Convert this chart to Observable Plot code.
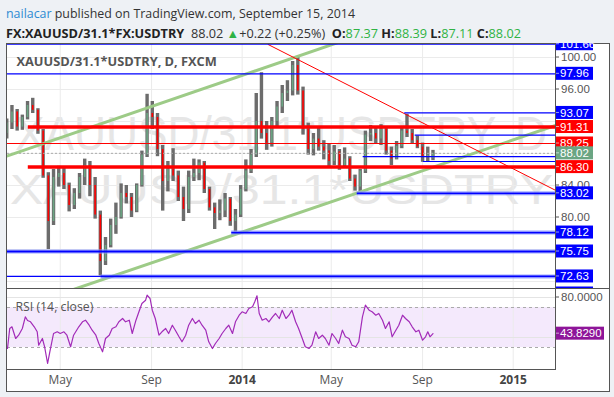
<!DOCTYPE html>
<html><head><meta charset="utf-8">
<script src="https://cdn.jsdelivr.net/npm/d3@7"></script>
<script src="https://cdn.jsdelivr.net/npm/@observablehq/plot@0.6"></script>
<style>
html,body{margin:0;padding:0;background:#eef1f5;}
#page{position:relative;width:614px;height:397px;overflow:hidden;background:#eef1f5;font-family:"Open Sans",sans-serif;}
.hdr{position:absolute;left:6px;white-space:nowrap;color:#333;font-size:12.4px;line-height:16px;transform-origin:0 0;}
.hdr b{font-weight:700;color:#222;}
.g{color:#2fb344;}
#frame{position:absolute;left:6px;top:43px;width:604px;height:349px;border:1px solid #555;box-sizing:border-box;background:#fff;}
.sep{position:absolute;background:#555;}
#main,#rsi{position:absolute;left:0;}
#main{top:43px;} #rsi{top:288px;}
</style></head><body>
<div id="page">
  <div class="hdr" id="h1" style="top:6px"><span style="color:#2e8bd3">nailacar</span> published on TradingView.com, September 15, 2014</div>
  <div class="hdr" id="h2" style="top:26px"></div>
  <div id="frame"></div>
  <div id="main"></div>
  <div id="rsi"></div>
  <div class="sep" style="left:555px;top:43px;width:1px;height:326px"></div>
  <div class="sep" style="left:6px;top:288px;width:604px;height:1px"></div>
  <div class="sep" style="left:6px;top:369px;width:550px;height:1px"></div>
</div>
<script>
// ---------- data ----------
const symbol = "FX:XAUUSD/31.1*FX:USDTRY";
const paneTitle = "XAUUSD/31.1*USDTRY, D, FXCM";
const watermark1 = "XAUUSD/31.1*USDTRY, D";
const watermark2 = "XAUUSD/31.1*USDTRY";
const viewDates = ["2013-02-19", "2015-02-27"];
const priceView = [71.125, 101.625];
const rsiView = [8, 88];

const candleDates = ["2013-02-18","2013-02-25","2013-03-04","2013-03-11","2013-03-18","2013-03-25","2013-04-01","2013-04-08","2013-04-15","2013-04-22","2013-04-29","2013-05-06","2013-05-13","2013-05-20","2013-05-27","2013-06-03","2013-06-10","2013-06-17","2013-06-24","2013-07-01","2013-07-08","2013-07-15","2013-07-22","2013-07-29","2013-08-05","2013-08-12","2013-08-19","2013-08-26","2013-09-02","2013-09-09","2013-09-16","2013-09-23","2013-09-30","2013-10-07","2013-10-14","2013-10-21","2013-10-28","2013-11-04","2013-11-11","2013-11-18","2013-11-25","2013-12-02","2013-12-09","2013-12-16","2013-12-23","2013-12-30","2014-01-06","2014-01-13","2014-01-20","2014-01-27","2014-02-03","2014-02-10","2014-02-17","2014-02-24","2014-03-03","2014-03-10","2014-03-17","2014-03-24","2014-03-31","2014-04-07","2014-04-14","2014-04-21","2014-04-28","2014-05-05","2014-05-12","2014-05-19","2014-05-26","2014-06-02","2014-06-09","2014-06-16","2014-06-23","2014-06-30","2014-07-07","2014-07-14","2014-07-21","2014-07-28","2014-08-04","2014-08-11","2014-08-18","2014-08-25","2014-09-01","2014-09-08","2014-09-15"];
const opens  = [90.5,91.8,93.2,91.3,92.5,94.0,93.4,90.8,85.2,79.5,85.0,85.5,84.0,81.5,83.0,85.0,86.5,84.0,80.3,74.5,76.5,79.0,80.0,83.0,82.5,80.8,84.0,87.8,93.0,92.5,88.5,84.5,86.0,85.2,82.5,81.0,85.0,85.5,86.8,83.5,81.2,80.5,80.8,82.3,79.5,80.3,83.5,85.8,87.8,92.0,90.5,89.3,92.0,93.8,95.5,95.8,99.0,95.8,91.0,88.5,89.8,88.8,88.3,87.0,88.2,86.5,87.3,84.8,83.8,85.8,90.3,90.5,89.8,91.0,88.3,87.3,88.9,90.8,90.5,89.6,88.8,87.5,87.37];
const highs  = [92.3,94.0,93.5,92.8,94.5,94.9,93.6,91.0,85.6,86.0,86.4,86.3,84.3,83.6,85.5,87.3,87.0,85.0,80.8,77.5,79.8,81.8,84.2,84.0,83.0,84.2,88.3,95.4,94.5,93.0,89.0,87.0,88.6,85.8,83.8,85.8,87.3,87.2,87.0,83.8,81.8,82.2,83.0,82.5,81.0,84.0,87.2,88.5,95.5,98.1,92.0,92.5,94.5,96.5,97.1,99.5,100.0,96.3,91.8,90.5,91.3,89.6,89.2,89.0,88.5,88.7,87.6,85.3,86.0,90.8,91.5,91.2,91.6,91.2,88.8,89.5,91.2,92.9,91.0,90.2,89.3,88.8,88.39];
const lows   = [89.8,91.0,90.8,90.9,92.2,93.0,90.4,84.9,76.0,79.0,83.8,83.5,80.7,81.0,82.3,84.0,82.6,79.8,72.7,74.0,76.2,77.9,79.8,81.7,80.0,80.6,83.8,87.5,91.0,87.6,80.8,83.2,84.5,82.0,79.5,80.5,84.5,84.6,83.0,80.8,78.5,79.6,80.0,78.9,78.2,80.0,83.2,85.5,87.5,89.8,88.4,88.8,91.3,93.0,94.5,95.2,95.3,90.3,87.8,87.7,88.3,87.2,86.3,86.5,85.9,86.2,84.5,83.3,83.1,85.5,89.5,89.2,89.0,87.8,86.5,87.2,88.6,90.0,89.2,88.6,86.9,86.9,87.11];
const closes = [91.8,93.2,91.3,92.5,94.0,93.4,90.8,85.2,79.5,85.0,85.5,84.0,81.5,83.0,85.0,86.5,84.0,80.3,74.5,76.5,79.0,80.0,83.0,82.5,80.8,84.0,87.8,93.0,92.5,88.5,84.5,86.0,85.2,82.5,81.0,85.0,85.5,86.8,83.5,81.2,80.5,80.8,82.3,79.5,80.3,83.5,85.8,87.8,92.0,90.5,89.3,92.0,93.8,95.5,95.8,99.0,95.8,91.0,88.5,89.8,88.8,88.3,87.0,88.2,86.5,87.3,84.8,83.8,85.8,90.3,90.5,89.8,91.0,88.3,87.3,88.9,90.8,90.5,89.6,88.8,87.5,87.8,88.02];

const rsiDates = ["2013-02-19","2013-02-22","2013-02-25","2013-03-02","2013-03-06","2013-03-11","2013-03-15","2013-03-18","2013-03-22","2013-03-27","2013-03-31","2013-04-02","2013-04-07","2013-04-10","2013-04-14","2013-04-17","2013-04-22","2013-04-27","2013-05-01","2013-05-06","2013-05-10","2013-05-15","2013-05-19","2013-05-26","2013-05-31","2013-06-04","2013-06-09","2013-06-13","2013-06-18","2013-06-22","2013-06-27","2013-07-01","2013-07-06","2013-07-10","2013-07-15","2013-07-19","2013-07-24","2013-07-28","2013-08-02","2013-08-06","2013-08-11","2013-08-15","2013-08-19","2013-08-24","2013-08-26","2013-08-30","2013-09-02","2013-09-06","2013-09-11","2013-09-15","2013-09-20","2013-09-24","2013-09-29","2013-10-03","2013-10-08","2013-10-12","2013-10-17","2013-10-21","2013-10-26","2013-10-30","2013-11-04","2013-11-08","2013-11-13","2013-11-17","2013-11-22","2013-11-26","2013-12-01","2013-12-05","2013-12-10","2013-12-14","2013-12-19","2013-12-23","2013-12-28","2014-01-01","2014-01-06","2014-01-10","2014-01-15","2014-01-18","2014-01-21","2014-01-24","2014-01-28","2014-02-02","2014-02-06","2014-02-11","2014-02-15","2014-02-20","2014-02-24","2014-03-01","2014-03-05","2014-03-09","2014-03-14","2014-03-18","2014-03-23","2014-03-27","2014-04-01","2014-04-05","2014-04-10","2014-04-14","2014-04-19","2014-04-23","2014-04-28","2014-05-02","2014-05-07","2014-05-11","2014-05-16","2014-05-20","2014-05-25","2014-05-29","2014-06-03","2014-06-07","2014-06-12","2014-06-16","2014-06-21","2014-06-25","2014-06-30","2014-07-04","2014-07-09","2014-07-13","2014-07-18","2014-07-22","2014-07-27","2014-07-31","2014-08-05","2014-08-09","2014-08-14","2014-08-18","2014-08-23","2014-08-27","2014-09-01","2014-09-05","2014-09-08","2014-09-11","2014-09-15"];
const rsiValues = [29,49,50.7,39,42.3,49,60.7,57,55.7,50.7,45.7,32.3,39,30.7,14,25.7,44,45.7,44,45.7,42.3,30.7,42.3,50.7,55.7,57.3,52.3,47.3,42.3,34,25.7,39,42.3,49,50.7,55.7,59,55.7,57.3,44,57.3,65.7,74,77.3,82.3,79,67.3,59,42.3,45.7,49,44,52.3,47.3,40.7,35.7,42.3,52.3,59,54,57.3,52.3,47.3,35.7,29,34,39,44,49,52.3,44,55.7,62.3,65.7,64,69,70.7,75.7,81.7,64,57.3,59,55.7,60.7,64,59,67.3,59,62.3,67.3,55.7,49,39,30.7,29,32.3,45.7,39,42.3,39,32.3,44,39,34,47.3,40.7,39,32.3,30.7,35.7,60.7,72.3,67.3,65.7,62.3,64,57.3,49,55.7,40.7,47.3,52.3,62.3,59,55.7,50.7,45.7,47.3,37.3,40.7,45.7,40.7,43.829];

const tickDates = ["2013-05-01","2013-09-01","2014-01-01","2014-05-01","2014-09-01","2015-01-01"];
const tickLabels = ["May","Sep","2014","May","Sep","2015"];
const priceGrid = [72,76,80,84,88,92,96,100];
const priceTicks = [100,96,84,80];
const rsiGrid = [40,80];
const rsiBand = [30,70];
const rsiTicks = [80];

// drawn levels (price, start date; null = from left edge)
const blueLevels = [101.66,97.96,93.07,90.30,87.60,87.00,72.63,70.50];
const blueStarts = [null,null,"2014-08-08","2014-08-22","2014-06-13","2014-09-02",null,null];
const boldBlueLevels = [83.02,78.12,75.75,72.63];
const boldBlueStarts = ["2014-06-05","2013-12-18",null,"2013-06-25"];
const redThickLevels = [91.31,86.30];
const redThickStarts = ["2013-03-19","2013-03-19"];
const redThinLevels = [89.25];
const blueLabelLevels = [101.66,97.96,93.07,83.02,78.12,75.75,72.63,70.50];
const redLabelLevels = [91.31,89.25,86.30];
// trend lines: [date, price]
const upperChannel = [["2013-02-19",87.7],["2015-02-27",111.2]];
const lowerChannel = [["2013-02-19",68.2],["2015-02-27",91.5]];
const downTrend = [["2014-02-05",101.625],["2015-02-27",83.4]];

// ---------- build ----------
const P = d3.utcParse("%Y-%m-%d");
const xDomain = viewDates.map(P);
const candles = candleDates.map((d,i)=>({date:P(d),open:opens[i],high:highs[i],low:lows[i],close:closes[i]}));
const upC = candles.filter(d=>d.close>=d.open), dnC = candles.filter(d=>d.close<d.open);
const rsi = rsiDates.map((d,i)=>({date:P(d),value:rsiValues[i]}));
const ticks = tickDates.map((d,i)=>({date:P(d),label:tickLabels[i]}));
const lvl = (ps, ss) => ps.map((p,i)=>({price:p,start:ss&&ss[i]?P(ss[i]):xDomain[0],end:xDomain[1]}));
const tl = a => a.map(([d,p])=>({date:P(d),price:p}));
const n = closes.length;
const last = closes[n-1];
const f2 = v => v.toFixed(2);

const BLUE="#0000ff", RED="#ff0000", GREEN="#6ba583", TL="#9dcb87", GRID="#ebebeb";

function axisLabels(plain, boxes, fmt, boxW) {
  return (index, scales, values, dims) => {
    const g = d3.create("svg:g").attr("font-family","'Liberation Sans',Arial,sans-serif")
      .attr("font-size",11.5).attr("text-anchor","start");
    const x0 = dims.width - dims.marginRight;
    for (const v of plain) {
      const y = scales.y(v);
      g.append("line").attr("x1",x0).attr("x2",x0+4).attr("y1",y).attr("y2",y).attr("stroke","#555");
      g.append("text").attr("x",x0+6).attr("y",y).attr("dy","0.36em").attr("fill","#555").text(fmt(v));
    }
    for (const b of boxes) {
      const y = scales.y(b.value);
      g.append("rect").attr("x",x0).attr("y",y-6.5).attr("width",boxW).attr("height",13).attr("fill",b.color);
      g.append("line").attr("x1",x0).attr("x2",x0+4).attr("y1",y).attr("y2",y).attr("stroke","#fff").attr("stroke-opacity",0.6);
      g.append("text").attr("x",x0+5).attr("y",y).attr("dy","0.36em").attr("fill","#fff").text(fmt(b.value));
    }
    return g.node();
  };
}
function watermarkMark(index, scales, values, dims) {
  const g = d3.create("svg:g").attr("font-family","'Liberation Sans',Arial,sans-serif")
    .attr("fill","#e6e6e6").attr("text-anchor","start");
  g.append("text").attr("x",dims.marginLeft+8).attr("y",107).attr("font-size",48)
    .attr("textLength",532).attr("lengthAdjust","spacingAndGlyphs").text(watermark1);
  g.append("text").attr("x",dims.marginLeft+3).attr("y",161).attr("font-size",42)
    .attr("textLength",543).attr("lengthAdjust","spacingAndGlyphs").text(watermark2);
  return g.node();
}

const boxes = [
  ...blueLabelLevels.map(v=>({value:v,color:BLUE})),
  ...redLabelLevels.map(v=>({value:v,color:RED})),
  {value:last,color:GREEN}
];

const main = Plot.plot({
  width:614, height:246, marginLeft:7, marginRight:59, marginTop:1, marginBottom:1,
  x:{type:"utc", domain:xDomain, axis:null},
  y:{domain:priceView, axis:null},
  style:{background:"transparent", overflow:"hidden", fontFamily:"'Open Sans',sans-serif"},
  marks:[
    watermarkMark,
    Plot.ruleX(ticks,{x:"date",stroke:GRID}),
    Plot.ruleY(priceGrid,{stroke:GRID}),
    Plot.text([paneTitle],{text:d=>d,frameAnchor:"top-left",dx:9,dy:17,textAnchor:"start",lineAnchor:"middle",fontSize:12.8,fontWeight:700,fill:"#555",fontFamily:"'Open Sans',sans-serif"}),
    Plot.ruleX(candles,{x:"date",y1:"low",y2:"high",stroke:"#6c6c6c",strokeWidth:3.4,clip:true}),
    Plot.ruleX(upC,{x:"date",y1:"open",y2:"close",stroke:GREEN,strokeWidth:1.6,clip:true}),
    Plot.ruleX(dnC,{x:"date",y1:"open",y2:"close",stroke:RED,strokeWidth:1.6,clip:true}),
    Plot.ruleY([last],{stroke:"#aaa",strokeDasharray:"2,2"}),
    Plot.line(tl(upperChannel),{x:"date",y:"price",stroke:TL,strokeWidth:3,clip:true}),
    Plot.line(tl(lowerChannel),{x:"date",y:"price",stroke:TL,strokeWidth:3,clip:true}),
    Plot.line(tl(downTrend),{x:"date",y:"price",stroke:RED,strokeWidth:1,clip:true}),
    Plot.ruleY(lvl(redThickLevels,redThickStarts),{y:"price",x1:"start",x2:"end",stroke:RED,strokeWidth:3.5,clip:true}),
    Plot.ruleY(lvl(redThinLevels),{y:"price",x1:"start",x2:"end",stroke:RED,strokeWidth:1,clip:true}),
    Plot.ruleY(lvl(blueLevels,blueStarts),{y:"price",x1:"start",x2:"end",stroke:BLUE,strokeWidth:1.2,clip:true}),
    Plot.ruleY(lvl(boldBlueLevels,boldBlueStarts),{y:"price",x1:"start",x2:"end",stroke:"#8f9cff",strokeWidth:4.5,strokeOpacity:0.6,clip:true}),
    Plot.ruleY(lvl(boldBlueLevels,boldBlueStarts),{y:"price",x1:"start",x2:"end",stroke:BLUE,strokeWidth:1.8,clip:true}),
    axisLabels(priceTicks, boxes, f2, 38)
  ]
});
document.getElementById("main").appendChild(main);

const rsiChart = Plot.plot({
  width:614, height:104, marginLeft:7, marginRight:59, marginTop:1, marginBottom:23,
  x:{type:"utc", domain:xDomain, axis:null},
  y:{domain:rsiView, axis:null},
  style:{background:"transparent", overflow:"visible", fontFamily:"'Open Sans',sans-serif"},
  marks:[
    Plot.rect([{x1:xDomain[0],x2:xDomain[1],y1:rsiBand[0],y2:rsiBand[1]}],{x1:"x1",x2:"x2",y1:"y1",y2:"y2",fill:"#f4e9fc"}),
    Plot.ruleX(ticks,{x:"date",stroke:GRID}),
    Plot.ruleY(rsiGrid,{stroke:"#e4e4e4"}),
    Plot.ruleY(rsiBand,{stroke:"#aaa",strokeDasharray:"3,3"}),
    Plot.line(rsi,{x:"date",y:"value",stroke:"#a22bb8",strokeWidth:1.2}),
    Plot.text(["RSI (14, close)"],{text:d=>d,frameAnchor:"top-left",dx:8,dy:17.5,textAnchor:"start",lineAnchor:"middle",fontSize:12.3,fill:"#555"}),
    Plot.text(ticks.filter(t=>t.date.getUTCMonth()!==0),{x:"date",text:"label",frameAnchor:"bottom",dy:11,lineAnchor:"middle",fontSize:12,fill:"#555"}),
    Plot.text(ticks.filter(t=>t.date.getUTCMonth()===0),{x:"date",text:"label",frameAnchor:"bottom",dy:11,lineAnchor:"middle",fontSize:12,fontWeight:700,fill:"#444"}),
    axisLabels(rsiTicks,[{value:rsiValues[rsiValues.length-1],color:"#8e1599"}],v=>v.toFixed(4),49)
  ]
});
document.getElementById("rsi").appendChild(rsiChart);

// header line 2 from data
const chg = closes[n-1]-closes[n-2];
const sgn = v => (v>=0?"+":"") ;
const h2 = document.getElementById("h2");
const add = (tag, text, cls) => { const e = document.createElement(tag); e.textContent = text; if (cls) e.className = cls; h2.appendChild(e); };
add("b", symbol); add("span", "  " + f2(last) + " ");
add("span", "▲", "g"); add("span", sgn(chg) + f2(chg) + " (" + sgn(chg) + (chg/closes[n-2]*100).toFixed(2) + "%)  ");
[["O:",opens[n-1]],["H:",highs[n-1]],["L:",lows[n-1]],["C:",closes[n-1]]].forEach(([k,v],i)=>{
  add("b", k); add("span", f2(v), "g"); if (i<3) add("span", " ");
});
h2.style.whiteSpace = "pre";
for (const [id,w] of [["h1",349],["h2",515]]) {
  const el = document.getElementById(id);
  const r = el.getBoundingClientRect().width;
  el.style.transform = `scaleX(${w/r})`;
}
</script>
</body></html>
